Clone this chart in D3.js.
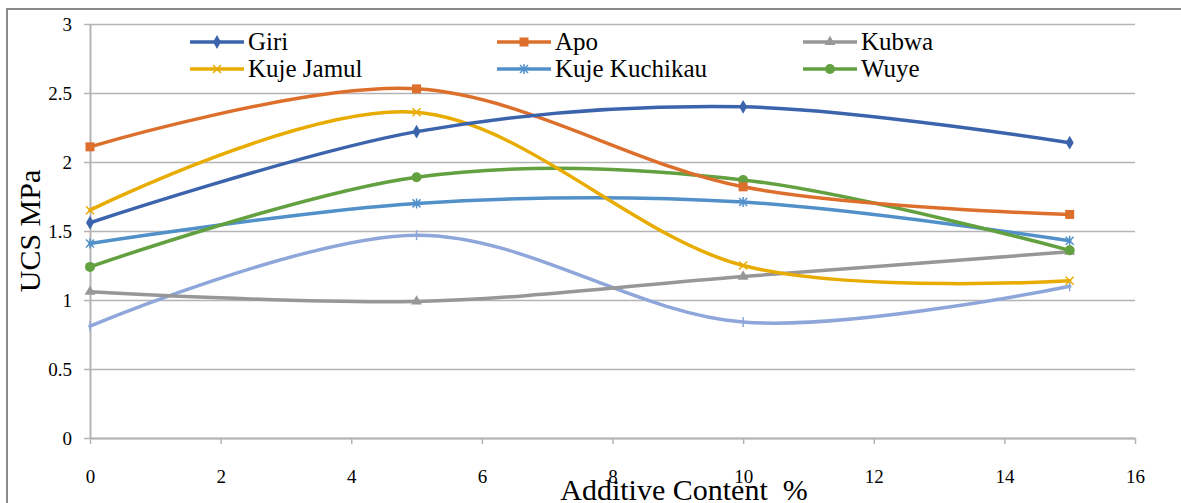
<!DOCTYPE html>
<html>
<head>
<meta charset="utf-8">
<script src="https://cdn.jsdelivr.net/npm/d3@7"></script>
<style>
  body { margin: 0; background: #fff; }
  svg { display: block; }
  text { font-family: "Liberation Serif", "DejaVu Serif", serif; fill: #000; }
</style>
</head>
<body>
<svg width="1181" height="503"></svg>
<script>
// data
var additive = [0, 5, 10, 15];
var giri = [1.56, 2.22, 2.40, 2.14];
var apo = [2.11, 2.53, 1.82, 1.62];
var kubwa = [1.06, 0.99, 1.17, 1.35];
var kujeJamul = [1.65, 2.36, 1.25, 1.14];
var kujeKuchikau = [1.41, 1.70, 1.71, 1.43];
var wuye = [1.24, 1.89, 1.87, 1.36];
var series7 = [0.81, 1.47, 0.84, 1.10];   // no legend entry in the original
var xTicks = [0, 2, 4, 6, 8, 10, 12, 14, 16];
var yTicks = [0, 0.5, 1, 1.5, 2, 2.5, 3];

var width = 1181, height = 503;
var plotLeft = 90, plotRight = 1135, plotTop = 24, plotBottom = 438;

var series = [
  {name: "Giri", values: giri, color: "#3b64ad", marker: "diamond"},
  {name: "Apo", values: apo, color: "#dd6f2c", marker: "square"},
  {name: "Kubwa", values: kubwa, color: "#979797", marker: "triangle"},
  {name: "Kuje Jamul", values: kujeJamul, color: "#e8ac00", marker: "x"},
  {name: "Kuje Kuchikau", values: kujeKuchikau, color: "#5290ca", marker: "star"},
  {name: "Wuye", values: wuye, color: "#63a03f", marker: "circle"},
  {name: "", values: series7, color: "#8ea6da", marker: "plus"}
];

var svg = d3.select("svg");

// outer chart frame (cut off at right and bottom)
svg.append("rect")
  .attr("x", 7).attr("y", 9)
  .attr("width", 1200).attr("height", 520)
  .attr("fill", "none")
  .attr("stroke", "#8a8a8a")
  .attr("stroke-width", 2);

var x = d3.scaleLinear().domain([0, 16]).range([plotLeft, plotRight]);
var y = d3.scaleLinear().domain([0, 3]).range([plotBottom, plotTop]);

// horizontal gridlines + y axis
var yAxis = svg.append("g")
  .attr("transform", "translate(" + plotLeft + ",0)")
  .call(d3.axisLeft(y).tickValues(yTicks).tickSize(-(plotRight - plotLeft)).tickSizeOuter(0)
    .tickFormat(function(d) { return d; }));
yAxis.select(".domain").attr("stroke", "#b4b4b4").attr("stroke-width", 2);
yAxis.selectAll(".tick line").attr("stroke", "#b4b4b4").attr("stroke-width", 1.5).attr("x1", -6);
yAxis.selectAll(".tick text")
  .attr("x", -18)
  .style("font-family", "'Liberation Serif', serif")
  .style("font-size", "19px");

// x axis
var xAxis = svg.append("g")
  .attr("transform", "translate(0," + plotBottom + ")")
  .call(d3.axisBottom(x).tickValues(xTicks).tickSize(6).tickSizeOuter(0));
xAxis.select(".domain").attr("stroke", "#b4b4b4").attr("stroke-width", 2);
xAxis.selectAll(".tick line").attr("stroke", "#b4b4b4").attr("stroke-width", 1.5);
xAxis.selectAll(".tick text")
  .attr("y", 32)
  .style("font-family", "'Liberation Serif', serif")
  .style("font-size", "19px");

// axis titles
svg.append("text")
  .attr("text-anchor", "middle")
  .attr("transform", "rotate(-90)")
  .attr("x", -231)
  .attr("y", 40)
  .style("font-size", "30px")
  .text("UCS MPa");

svg.append("text")
  .attr("text-anchor", "middle")
  .attr("x", 684)
  .attr("y", 500)
  .style("font-size", "30px")
  .style("white-space", "pre")
  .text("Additive Content  %");

// lines
var line = d3.line()
  .x(function(d, i) { return x(additive[i]); })
  .y(function(d) { return y(d); })
  .curve(d3.curveCardinal.tension(0));

function drawMarker(g, type, color, cx, cy) {
  if (type == "diamond") {
    g.append("path").attr("d", d3.symbol(d3.symbolDiamond, 55)())
      .attr("transform", "translate(" + cx + "," + cy + ")").attr("fill", color);
  } else if (type == "square") {
    g.append("rect").attr("x", cx - 4.5).attr("y", cy - 4.5).attr("width", 9).attr("height", 9).attr("fill", color);
  } else if (type == "triangle") {
    g.append("path").attr("d", d3.symbol(d3.symbolTriangle, 50)())
      .attr("transform", "translate(" + cx + "," + cy + ")").attr("fill", color);
  } else if (type == "circle") {
    g.append("circle").attr("cx", cx).attr("cy", cy).attr("r", 5).attr("fill", color);
  } else if (type == "x") {
    g.append("path").attr("d", "M-4,-4L4,4M-4,4L4,-4")
      .attr("transform", "translate(" + cx + "," + cy + ")").attr("stroke", color).attr("stroke-width", 1.5);
  } else if (type == "star") {
    g.append("path").attr("d", "M-4,-4L4,4M-4,4L4,-4M0,-5L0,5")
      .attr("transform", "translate(" + cx + "," + cy + ")").attr("stroke", color).attr("stroke-width", 1.5);
  } else if (type == "plus") {
    g.append("path").attr("d", "M0,-5L0,5")
      .attr("transform", "translate(" + cx + "," + cy + ")").attr("stroke", color).attr("stroke-width", 1.5);
  }
}

// draw the unnamed series first so it sits under the others
var order = [6, 2, 4, 5, 3, 1, 0];
order.forEach(function(k) {
  var s = series[k];
  var g = svg.append("g");
  g.append("path")
    .datum(s.values)
    .attr("d", line)
    .attr("fill", "none")
    .attr("stroke", s.color)
    .attr("stroke-width", 3.5)
    .attr("stroke-linecap", "round");
  s.values.forEach(function(v, i) {
    drawMarker(g, s.marker, s.color, x(additive[i]), y(v));
  });
});

// legend: 3 columns x 2 rows
var legendX = [190, 497, 803];
var legendY = [42, 69];
series.slice(0, 6).forEach(function(s, i) {
  var col = i % 3, row = Math.floor(i / 3);
  var lx = legendX[col], ly = legendY[row];
  var g = svg.append("g");
  g.append("line")
    .attr("x1", lx).attr("x2", lx + 54)
    .attr("y1", ly).attr("y2", ly)
    .attr("stroke", s.color).attr("stroke-width", 3.5);
  drawMarker(g, s.marker, s.color, lx + 27, ly);
  g.append("text")
    .attr("x", lx + 58)
    .attr("y", ly + 8)
    .style("font-size", "25px")
    .text(s.name);
});
</script>
</body>
</html>
